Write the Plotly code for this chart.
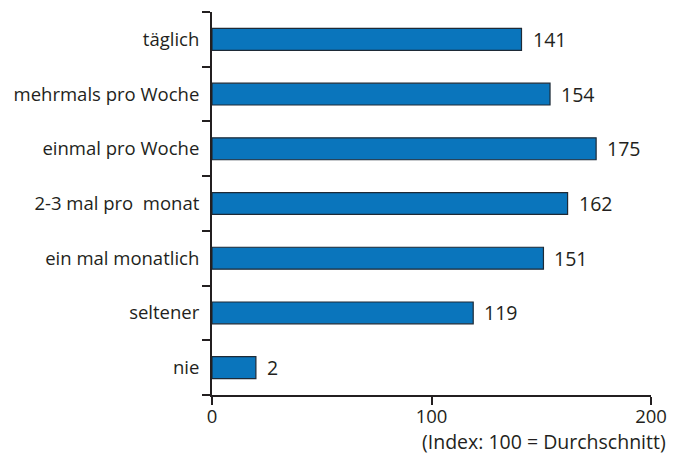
import plotly.graph_objects as go

categories = ["täglich", "mehrmals pro Woche", "einmal pro Woche", "2-3 mal pro  monat",
              "ein mal monatlich", "seltener", "nie"]
values = [141, 154, 175, 162, 151, 119, 20]
labels = ["141", "154", "175", "162", "151", "119", "2"]
x_ticks = [0, 100, 200]

ink = "#231f20"
font = dict(family="Open Sans", size=18.5, color=ink)

fig = go.Figure()

fig.add_trace(go.Bar(
    x=values,
    y=categories,
    orientation="h",
    width=0.4,
    marker=dict(color="#0a75bc", line=dict(color="#1e2a36", width=1.2)),
    hoverinfo="skip",
))

# value labels right of each bar
for cat, val, lab in zip(categories, values, labels):
    fig.add_annotation(x=val, y=cat, text=lab, showarrow=False,
                       xanchor="left", xshift=9, font=dict(font, size=19.5))

fig.add_annotation(x=1, y=0, xref="paper", yref="paper", yshift=-46, xshift=17,
                   text="(Index: 100 = Durchschnitt)", showarrow=False,
                   xanchor="right", yanchor="middle", font=dict(font, size=19.5))

fig.update_layout(
    width=673,
    height=457,
    margin=dict(l=212, r=22, t=12, b=62),
    plot_bgcolor="white",
    paper_bgcolor="white",
    font=font,
    showlegend=False,
    xaxis=dict(
        range=[0, 200],
        tickvals=x_ticks,
        showgrid=False,
        zeroline=False,
        showline=True,
        linecolor=ink,
        linewidth=2,
        ticks="outside",
        ticklen=8,
        tickwidth=2,
        tickcolor=ink,
        ticklabelstandoff=-4,
        automargin=False,
    ),
    yaxis=dict(
        categoryorder="array",
        categoryarray=categories[::-1],
        showgrid=False,
        showline=True,
        linecolor=ink,
        linewidth=2,
        ticks="outside",
        tickson="boundaries",
        ticklen=8,
        tickwidth=2,
        tickcolor=ink,
        ticklabelstandoff=7,
        automargin=False,
    ),
)

fig.write_html("out.html", config={"displayModeBar": False},
               post_script="document.body.style.margin='0';")
